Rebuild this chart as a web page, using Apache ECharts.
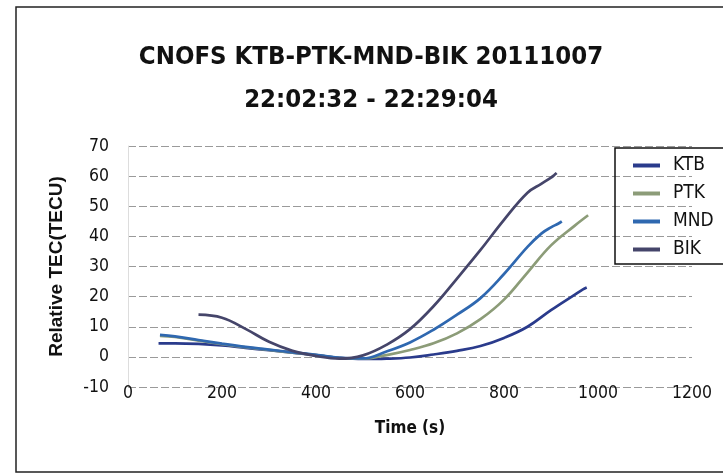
<!DOCTYPE html>
<html><head><meta charset="utf-8">
<script src="https://cdn.jsdelivr.net/npm/echarts@6/dist/echarts.min.js"></script>
<style>html,body{margin:0;padding:0;background:#fff}#c{width:723px;height:475px}</style>
</head><body><div id="c"></div>
<script>
const titleLines = ['CNOFS KTB-PTK-MND-BIK 20111007', '22:02:32 - 22:29:04'];
const seriesNames = ['KTB', 'PTK', 'MND', 'BIK'];
const seriesColors = ['#2a3b8c', '#8c9c78', '#2f68b0', '#45456a'];
const xTickValues = [0, 200, 400, 600, 800, 1000, 1200];
const yTickValues = [-10, 0, 10, 20, 30, 40, 50, 60, 70];
const xAxisName = 'Time (s)';
const yAxisName = 'Relative TEC(TECU)';

const ktbTime = [65, 100, 150, 200, 250, 300, 350, 400, 450, 500, 550, 600, 650, 700, 750, 800, 850, 900, 950, 968, 976];
const ktbTec  = [4.5, 4.5, 4.3, 3.8, 3.0, 2.2, 1.4, 0.6, -0.3, -0.7, -0.6, -0.2, 0.8, 2.0, 3.6, 6.3, 10.0, 15.5, 20.6, 22.4, 23.0];
const ptkTime = [68, 100, 150, 200, 250, 300, 350, 400, 450, 500, 550, 600, 650, 700, 750, 800, 850, 900, 950, 979];
const ptkTec  = [7.0, 6.6, 5.4, 4.2, 3.2, 2.3, 1.4, 0.6, -0.4, -0.6, 0.6, 2.3, 4.5, 7.8, 12.5, 19.0, 28.0, 37.0, 43.5, 47.0];
const mndTime = [68, 100, 150, 200, 250, 300, 350, 400, 450, 500, 550, 600, 650, 700, 750, 800, 850, 880, 900, 915, 923];
const mndTec  = [7.3, 6.8, 5.6, 4.4, 3.3, 2.4, 1.5, 0.7, -0.3, -0.5, 1.8, 4.8, 9.0, 14.0, 19.5, 27.5, 36.5, 41.0, 43.0, 44.2, 45.0];
const bikTime = [150, 200, 250, 300, 350, 400, 450, 500, 550, 600, 650, 700, 750, 800, 850, 880, 900, 906, 912];
const bikTec  = [14.0, 13.0, 9.3, 5.0, 2.0, 0.3, -0.6, 0.5, 4.0, 9.2, 16.8, 26.0, 35.5, 45.5, 54.5, 57.5, 59.5, 60.2, 61.0];

const times = [ktbTime, ptkTime, mndTime, bikTime];
const tecs = [ktbTec, ptkTec, mndTec, bikTec];

const NARROW = '"DejaVu Sans Condensed", "Liberation Sans Narrow", "Liberation Sans", sans-serif';
const WIDE = '"Liberation Sans", Arial, sans-serif';

const chart = echarts.init(document.getElementById('c'), null, {renderer: 'canvas'});
chart.setOption({
  backgroundColor: '#ffffff',
  animation: false,
  title: {
    text: titleLines.join('\n'),
    left: 371, top: 36, padding: 0, textAlign: 'center',
    textStyle: {fontFamily: NARROW, fontWeight: 'bold', fontSize: 25.5, lineHeight: 43, color: '#111'}
  },
  graphic: [{
    type: 'rect', silent: true, z: -1,
    shape: {x: 16, y: 7, width: 720, height: 465},
    style: {fill: 'none', stroke: '#222', lineWidth: 1.5}
  }],
  legend: {
    orient: 'vertical', left: 615, top: 148,
    data: seriesNames, icon: 'rect', itemWidth: 27, itemHeight: 4, itemGap: 9,
    padding: [8, 11, 5, 18], borderColor: '#111', borderWidth: 1.5,
    textStyle: {fontFamily: NARROW, fontSize: 19, color: '#111', padding: [0, 0, 0, 8]}
  },
  grid: {left: 128, right: 31, top: 146, bottom: 88, containLabel: false, outerBoundsMode: 'none'},
  xAxis: {
    type: 'value', min: xTickValues[0], max: xTickValues[xTickValues.length - 1],
    interval: xTickValues[1] - xTickValues[0],
    axisLine: {show: false}, axisTick: {show: false}, splitLine: {show: false},
    axisLabel: {fontFamily: NARROW, fontSize: 17.5, color: '#111', margin: -3, formatter: v => String(v)},
    name: xAxisName, nameLocation: 'middle', nameGap: 33,
    nameTextStyle: {fontFamily: NARROW, fontWeight: 'bold', fontSize: 17, color: '#111'}
  },
  yAxis: {
    type: 'value', min: yTickValues[0], max: yTickValues[yTickValues.length - 1],
    interval: yTickValues[1] - yTickValues[0],
    axisLine: {show: true, lineStyle: {color: '#dddddd', width: 1}}, axisTick: {show: false},
    splitLine: {show: true, lineStyle: {color: '#9a9a9a', width: 1, type: [8, 3]}},
    axisLabel: {fontFamily: NARROW, fontSize: 17.5, color: '#111', margin: 19, formatter: v => String(v)},
    name: yAxisName, nameLocation: 'middle', nameGap: 62,
    nameTextStyle: {fontFamily: WIDE, fontWeight: 'bold', fontSize: 19, color: '#111'}
  },
  series: seriesNames.map((name, i) => ({
    name: name, type: 'line', smooth: 0.4, showSymbol: false,
    color: seriesColors[i],
    lineStyle: {width: 2.7, color: seriesColors[i]},
    data: times[i].map((t, k) => [t, tecs[i][k]])
  }))
});
</script></body></html>
